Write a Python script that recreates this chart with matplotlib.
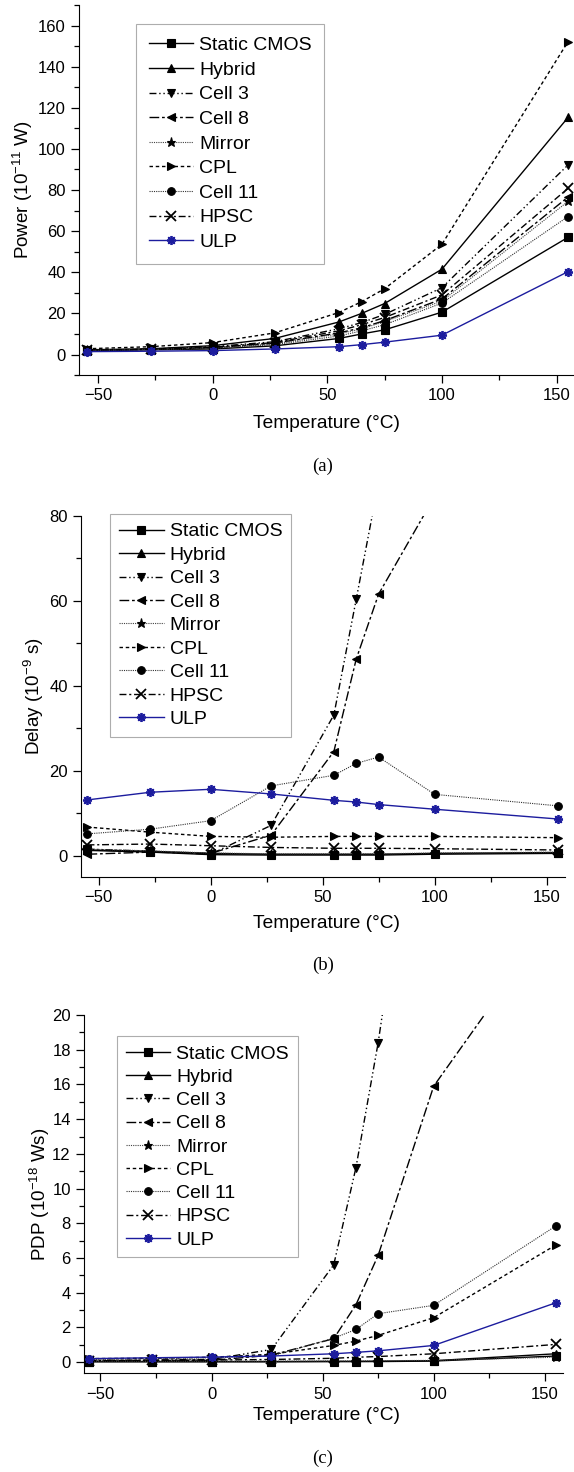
import numpy as np
import matplotlib
matplotlib.use('Agg')
import matplotlib.pyplot as plt
from matplotlib.ticker import MultipleLocator

plt.rcParams['font.family'] = ['Liberation Sans', 'DejaVu Sans']
plt.rcParams['mathtext.fontset'] = 'custom'
plt.rcParams['mathtext.rm'] = 'Liberation Sans'
plt.rcParams['mathtext.it'] = 'Liberation Sans'

temps = [-55, -27, 0, 27, 55, 65, 75, 100, 155]
names = ['Static CMOS', 'Hybrid', 'Cell 3', 'Cell 8', 'Mirror', 'CPL', 'Cell 11', 'HPSC', 'ULP']

# power (10^-11 W)
power_static = [1.8, 2.3, 2.7, 4.2, 7.8, 10.0, 12.0, 20.6, 57.0]
power_hybrid = [2.3, 2.8, 4.3, 7.8, 15.8, 20.0, 24.8, 41.5, 115.3]
power_cell3 = [2.1, 2.6, 3.8, 6.2, 12.5, 15.5, 19.5, 32.5, 92.2]
power_cell8 = [2.0, 2.5, 3.3, 5.5, 10.5, 13.0, 16.5, 27.0, 76.6]
power_mirror = [2.0, 2.4, 3.2, 5.2, 10.0, 12.5, 16.0, 26.0, 74.5]
power_cpl = [2.8, 3.8, 5.8, 10.5, 20.4, 25.7, 32.0, 53.6, 152.2]
power_cell11 = [1.9, 2.4, 3.0, 4.8, 9.0, 11.5, 14.5, 25.0, 67.1]
power_hpsc = [2.1, 2.5, 3.5, 5.8, 11.5, 14.5, 18.0, 29.0, 80.8]
power_ulp = [1.4, 1.6, 1.9, 2.7, 3.8, 4.8, 6.0, 9.4, 40.3]

# delay (10^-9 s)
delay_static = [1.2, 0.8, 0.2, 0.1, 0.1, 0.1, 0.1, 0.3, 0.5]
delay_hybrid = [1.3, 1.0, 0.5, 0.3, 0.3, 0.3, 0.3, 0.5, 0.7]
delay_cell3 = [1.5, 1.0, 0.3, 7.1, 33.1, 60.4, 88.0, 200.0, 500.0]
delay_cell8 = [0.3, 0.8, 0.5, 4.8, 24.5, 46.3, 61.6, 84.6, 150.0]
delay_mirror = [1.5, 1.1, 0.6, 0.4, 0.4, 0.4, 0.4, 0.6, 0.8]
delay_cpl = [6.7, 5.5, 4.5, 4.3, 4.5, 4.5, 4.5, 4.5, 4.2]
delay_cell11 = [5.1, 6.2, 8.2, 16.4, 18.9, 21.7, 23.2, 14.4, 11.7]
delay_hpsc = [2.5, 2.7, 2.3, 1.9, 1.7, 1.7, 1.7, 1.6, 1.3]
delay_ulp = [13.1, 14.9, 15.6, 14.5, 13.0, 12.6, 12.0, 10.9, 8.6]

# PDP (10^-18 Ws)
pdp_static = [0.02, 0.02, 0.02, 0.02, 0.03, 0.03, 0.03, 0.06, 0.35]
pdp_hybrid = [0.03, 0.03, 0.03, 0.03, 0.04, 0.04, 0.05, 0.08, 0.48]
pdp_cell3 = [0.1, 0.12, 0.15, 0.73, 5.6, 11.2, 18.4, 40.0, 120.0]
pdp_cell8 = [0.05, 0.1, 0.1, 0.4, 1.35, 3.3, 6.15, 15.9, 25.8]
pdp_mirror = [0.05, 0.05, 0.05, 0.06, 0.07, 0.07, 0.08, 0.1, 0.28]
pdp_cpl = [0.2, 0.22, 0.28, 0.45, 0.96, 1.21, 1.54, 2.56, 6.75]
pdp_cell11 = [0.15, 0.2, 0.25, 0.35, 1.38, 1.88, 2.79, 3.27, 7.85]
pdp_hpsc = [0.08, 0.1, 0.12, 0.15, 0.22, 0.28, 0.32, 0.48, 1.02]
pdp_ulp = [0.2, 0.25, 0.29, 0.35, 0.48, 0.56, 0.65, 0.96, 3.42]

blue = '#1c1c9e'
styles = [
    dict(ls='-', marker='s', color='k', lw=1.0),
    dict(ls='-', marker='^', color='k', lw=1.0),
    dict(ls=(0, (5, 2, 1, 2, 1, 2)), marker='v', color='k', lw=1.0),
    dict(ls=(0, (7, 2, 2, 2)), marker='<', color='k', lw=1.0),
    dict(ls=(0, (1, 1)), marker='*', color='#444444', lw=0.8),
    dict(ls=(0, (2.5, 2)), marker='>', color='k', lw=1.0),
    dict(ls=(0, (1, 1)), marker='o', color='#333333', lw=0.8),
    dict(ls=(0, (5, 2, 1.5, 2)), marker='x', color='k', lw=1.0),
    dict(ls='-', marker=(8, 2, 0), color=blue, lw=1.0),
]

fig = plt.figure(figsize=(5.74, 14.72), dpi=100)


def draw(ax, series, xlim, ylim, ymaj, ymin, ylabel, ylab_x, leg_pos, spacing, pad):
    for name, vals, st in zip(names, series, styles):
        mk = st['marker']
        edge = 'k' if st['color'] in ('#444444', '#333333') else st['color']
        ax.plot(temps, vals, linestyle=st['ls'], color=st['color'], lw=st['lw'],
                marker=mk, markersize=6.5 if mk in ('*', (8, 2, 0), 'x') else 5.5,
                markeredgewidth=1.3 if mk in ((8, 2, 0), 'x') else 0.8,
                markerfacecolor=edge, markeredgecolor=edge, label=name)
    ax.set_xlim(*xlim)
    ax.set_ylim(*ylim)
    ax.spines['top'].set_visible(False)
    ax.spines['right'].set_visible(False)
    ax.xaxis.set_major_locator(MultipleLocator(50))
    ax.xaxis.set_minor_locator(MultipleLocator(25))
    ax.yaxis.set_major_locator(MultipleLocator(ymaj))
    ax.yaxis.set_minor_locator(MultipleLocator(ymin))
    ax.tick_params(which='major', direction='out', length=6, width=0.9, labelsize=12)
    ax.tick_params(which='minor', direction='out', length=3.5, width=0.9)
    ax.set_ylabel(ylabel, fontsize=13.5)
    ax.yaxis.set_label_coords(ylab_x, 0.5)
    leg = ax.legend(loc='upper left', bbox_to_anchor=leg_pos, fontsize=14,
                    frameon=True, fancybox=False, edgecolor='#999999',
                    handlelength=2.3, handletextpad=0.3, labelspacing=spacing,
                    borderpad=pad, borderaxespad=0)
    leg.get_frame().set_linewidth(0.8)


ax1 = fig.add_axes([0.1376, 0.7452, 0.8624, 0.2514])
draw(ax1, [power_static, power_hybrid, power_cell3, power_cell8, power_mirror,
           power_cpl, power_cell11, power_hpsc, power_ulp],
     (-58.3, 157.6), (-10, 170), 20, 10, 'Power (10$^{-11}$ W)', -0.089,
     (0.115, 0.949), 0.36, 0.65)

ax2 = fig.add_axes([0.1415, 0.4044, 0.8428, 0.2451])
draw(ax2, [delay_static, delay_hybrid, delay_cell3, delay_cell8, delay_mirror,
           delay_cpl, delay_cell11, delay_hpsc, delay_ulp],
     (-57.8, 158.2), (-5, 80), 20, 10, 'Delay (10$^{-9}$ s)', -0.072,
     (0.06, 1.005), 0.3, 0.45)

ax3 = fig.add_axes([0.1463, 0.067, 0.8345, 0.2434])
draw(ax3, [pdp_static, pdp_hybrid, pdp_cell3, pdp_cell8, pdp_mirror,
           pdp_cpl, pdp_cell11, pdp_hpsc, pdp_ulp],
     (-57.4, 158.2), (-0.65, 20), 2, 1, 'PDP (10$^{-18}$ Ws)', -0.067,
     (0.069, 0.941), 0.29, 0.45)

for ypix, lab in [(424, '(a)'), (923, '(b)'), (1416, '(c)')]:
    fig.text(0.568, 1 - ypix / 1472, 'Temperature (°C)', ha='center', va='center', fontsize=13.8)
    fig.text(0.562, 1 - (ypix + 42) / 1472, lab, ha='center', va='center', fontsize=13.5,
             family='Liberation Serif')

fig.savefig('out.png', dpi=100)
